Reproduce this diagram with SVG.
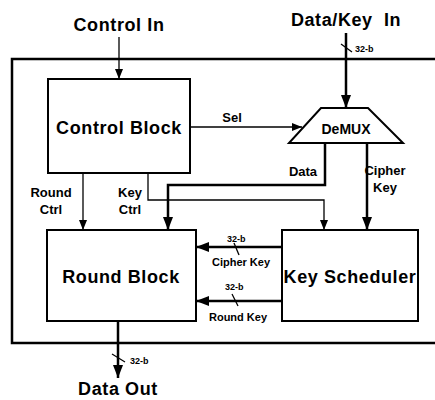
<svg xmlns="http://www.w3.org/2000/svg" width="435" height="400" viewBox="0 0 435 400">
<defs>
<marker id="ah" markerWidth="10" markerHeight="8" refX="10" refY="4" orient="auto" markerUnits="userSpaceOnUse">
<path d="M0,0 L10,4 L0,8 Z" fill="#000"/>
</marker>
<marker id="ahb" markerWidth="13" markerHeight="10" refX="13" refY="5" orient="auto" markerUnits="userSpaceOnUse">
<path d="M0,0 L13,5 L0,10 Z" fill="#000"/>
</marker>
</defs>
<style>
.box{fill:#fff;stroke:#000;stroke-width:2}
.big{font-family:"Liberation Sans",Arial,sans-serif;font-weight:bold;font-size:18px;letter-spacing:0.6px;text-anchor:middle}
.lbl{font-family:"Liberation Sans",Arial,sans-serif;font-weight:bold;font-size:13px;text-anchor:middle}
.sm{font-family:"Liberation Sans",Arial,sans-serif;font-weight:bold;font-size:9px}
.thin{fill:none;stroke:#000;stroke-width:1.3}
.thick{fill:none;stroke:#000;stroke-width:2.5}
</style>
<rect width="435" height="400" fill="#fff"/>
<g id="frame">
<polyline points="436,59 12,59 12,343 436,343" fill="none" stroke="#000" stroke-width="2.5"/>
</g>
<g id="connectors">
<line class="thin" x1="119" y1="37" x2="119" y2="79" marker-end="url(#ah)"/>
<line class="thick" x1="346" y1="33" x2="346" y2="108" marker-end="url(#ahb)"/>
<line class="thin" x1="341" y1="44" x2="352" y2="52"/>
<line class="thin" x1="190" y1="127" x2="302" y2="127" marker-end="url(#ah)"/>
<polyline class="thick" points="325,143 325,185 168,185 168,230" marker-end="url(#ahb)"/>
<line class="thick" x1="367" y1="143" x2="367" y2="230" marker-end="url(#ahb)"/>
<polyline class="thin" points="148,173 148,200 324,200 324,230" marker-end="url(#ah)"/>
<line class="thin" x1="83" y1="173" x2="83" y2="230" marker-end="url(#ah)"/>
<line class="thick" x1="282" y1="247" x2="196" y2="247" marker-end="url(#ahb)"/>
<line class="thin" x1="234" y1="243" x2="239" y2="255"/>
<line class="thick" x1="282" y1="301" x2="196" y2="301" marker-end="url(#ahb)"/>
<line class="thin" x1="232" y1="294" x2="238" y2="306"/>
<line class="thick" x1="118" y1="321" x2="118" y2="378" marker-end="url(#ahb)"/>
<line class="thin" x1="112" y1="354" x2="125" y2="362"/>
</g>
<g id="control-block">
<rect class="box" x="48" y="79" width="142" height="94"/>
<text class="big" x="119" y="134">Control Block</text>
</g>
<g id="demux">
<polygon class="box" points="321,108 368,108 403,143 289,143"/>
<text class="lbl" x="346" y="134" style="font-size:14px">DeMUX</text>
</g>
<g id="round-block">
<rect class="box" x="47" y="230" width="149" height="91"/>
<text class="big" x="121" y="283">Round Block</text>
</g>
<g id="key-scheduler">
<rect class="box" x="282" y="230" width="136" height="91"/>
<text class="big" x="350" y="283">Key Scheduler</text>
</g>
<g id="labels">
<text class="big" x="119" y="31">Control In</text>
<text class="big" x="346" y="26" style="white-space:pre">Data/Key  In</text>
<text class="sm" x="355" y="52">32-b</text>
<text class="lbl" x="232" y="122">Sel</text>
<text class="lbl" x="303" y="176">Data</text>
<text class="lbl" x="385" y="175">Cipher</text>
<text class="lbl" x="385" y="192">Key</text>
<text class="lbl" x="51" y="197">Round</text>
<text class="lbl" x="51" y="214">Ctrl</text>
<text class="lbl" x="130" y="197">Key</text>
<text class="lbl" x="130" y="214">Ctrl</text>
<text class="sm" x="227" y="242">32-b</text>
<text class="lbl" x="241" y="266" style="font-size:11px">Cipher Key</text>
<text class="sm" x="225" y="290">32-b</text>
<text class="lbl" x="238" y="321" style="font-size:11px">Round Key</text>
<text class="sm" x="130" y="364">32-b</text>
<text class="big" x="118" y="395">Data Out</text>
</g>
</svg>
